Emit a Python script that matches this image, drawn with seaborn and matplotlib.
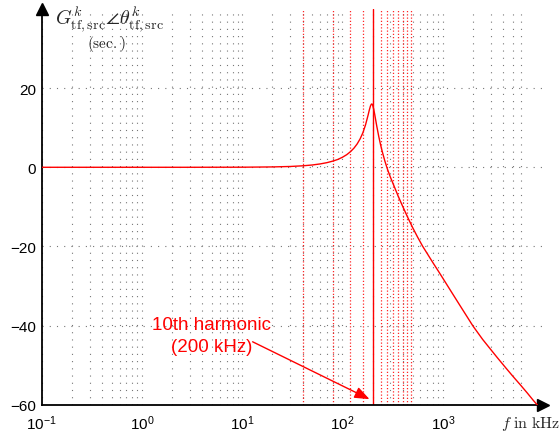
import numpy as np
import pandas as pd
import matplotlib
matplotlib.use("Agg")
import matplotlib.pyplot as plt
import matplotlib.ticker as mticker
import seaborn as sns

# ---- data ----
freq_khz = [0.1, 0.5, 1, 3, 5, 10, 20, 30, 40, 50, 60, 70, 80, 90, 100, 110, 120,
            130, 140, 150, 160, 170, 180, 185, 190, 194, 197, 200, 205, 210, 215,
            220, 230, 240, 250, 265, 280, 300, 330, 360, 400, 450, 500, 560, 630,
            700, 800, 923, 1000, 1200, 1500, 2000, 2500, 3000, 3500, 4290, 5000,
            6000, 7000, 8000, 8800]
gain_db = [0, 0, 0, 0, 0.01, 0.02, 0.09, 0.2, 0.37, 0.58, 0.85, 1.17, 1.56, 1.99,
           2.54, 3.17, 3.93, 4.82, 5.89, 7.19, 8.76, 10.77, 13.16, 14.42, 15.47,
           15.95, 16.0, 15.7, 14.66, 13.25, 11.77, 10.34, 7.8, 5.66, 3.84, 1.54,
           -0.38, -2.45, -5.0, -7.35, -9.96, -12.8, -15.2, -17.6, -19.95, -21.8,
           -24.15, -26.6, -28.0, -31.2, -35.1, -40.1, -43.5, -46.0, -48.1, -50.8,
           -52.8, -55.1, -57.1, -58.9, -60.1]
harmonics_khz = [40, 80, 120, 160, 240, 280, 320, 360, 400, 440, 480]
marked_harmonic_khz = 200
x_tick_vals = [0.1, 1, 10, 100, 1000]
y_tick_vals = [-60, -40, -20, 0, 20]

df = pd.DataFrame({"f": freq_khz, "g": gain_db})

sns.set_style("white")
plt.rcParams["font.family"] = ["Liberation Sans", "DejaVu Sans"]
plt.rcParams["mathtext.fontset"] = "custom"
plt.rcParams["mathtext.rm"] = "Liberation Sans"
plt.rcParams["mathtext.it"] = "Liberation Sans:italic"
plt.rcParams["mathtext.bf"] = "Liberation Sans:bold"

W, H = 559, 439
fig = plt.figure(figsize=(W / 100, H / 100), dpi=100)
ax = fig.add_axes([41.7 / W, 1 - 405.7 / H, (543 - 41.7) / W, (405.7 - 10) / H])
ax.set_xscale("log")
ax.set_xlim(0.1, 1e4)
ax.set_ylim(-60, 40)

# grid
minor_pos = []
for d in [0.1, 1, 10, 100]:
    minor_pos += [d * k for k in range(2, 10)]
minor_pos += [1000 * k for k in range(2, 7)]
ax.xaxis.set_major_locator(mticker.FixedLocator(x_tick_vals))
ax.xaxis.set_minor_locator(mticker.FixedLocator(minor_pos))
ax.xaxis.set_major_formatter(mticker.LogFormatterSciNotation())
ax.xaxis.set_minor_formatter(mticker.NullFormatter())
ax.set_yticks(y_tick_vals)
ax.set_yticklabels([str(v).replace("-", "\u2212") for v in y_tick_vals])

grid_kw = dict(color="#777777", lw=0.8, linestyle=(0, (1, 5.5)))
ax.grid(False)
for xv in x_tick_vals + minor_pos:
    ax.axvline(xv, **grid_kw, zorder=0.5)
for yv in y_tick_vals:
    if yv > -60:
        ax.axhline(yv, **grid_kw, zorder=0.5)

# harmonic markers
for h in harmonics_khz:
    ax.axvline(h, color="#ff0000", lw=0.9, linestyle=(0, (1, 1.6)), alpha=0.85, zorder=1)
ax.axvline(marked_harmonic_khz, color="#ff0000", lw=1.0, zorder=2)

sns.lineplot(data=df, x="f", y="g", ax=ax, color="#ff0000", lw=1.0, zorder=3)
ax.set_xlabel("")
ax.set_ylabel("")

# axes style
for s in ["top", "right"]:
    ax.spines[s].set_visible(False)
for s in ["left", "bottom"]:
    ax.spines[s].set_color("black")
    ax.spines[s].set_linewidth(1.3)
ax.tick_params(axis="both", which="major", direction="in", length=4, width=0.8,
               labelsize=11, colors="black", pad=4)
ax.tick_params(axis="x", which="minor", direction="in", length=2.5, width=0.6)
ax.tick_params(axis="x", which="major", pad=6)
ax.plot([1], [0], marker=">", color="black", markersize=8, transform=ax.transAxes,
        clip_on=False)
ax.plot([0], [1], marker="^", color="black", markersize=8, transform=ax.transAxes,
        clip_on=False)

# labels
def px(x, y):
    return x / W, 1 - y / H

fig.text(*px(55, 19), r"$G^k_{\mathrm{tf,src}}\angle\theta^k_{\mathrm{tf,src}}$",
         math_fontfamily="cm", fontsize=14.5, ha="left", va="center")
fig.text(*px(106, 44), r"$\mathrm{(sec.)}$", math_fontfamily="cm", fontsize=11,
         ha="center", va="center")
fig.text(*px(501, 424), r"$f\ \mathrm{in\ kHz}$", math_fontfamily="cm", fontsize=11.5,
         ha="left", va="center")

# annotation
fig.text(*px(211.7, 336.7), "10th harmonic\n(200 kHz)", color="#ff0000",
         fontsize=13.5, ha="center", va="center", multialignment="center",
         linespacing=1.4)
ax.annotate("", xy=(186, -58.6), xytext=(12.7, -44.1),
            arrowprops=dict(arrowstyle="-|>,head_length=0.9,head_width=0.35",
                            color="#ff0000", lw=1.0, shrinkA=0, shrinkB=0))

fig.savefig("out.png", dpi=100)
